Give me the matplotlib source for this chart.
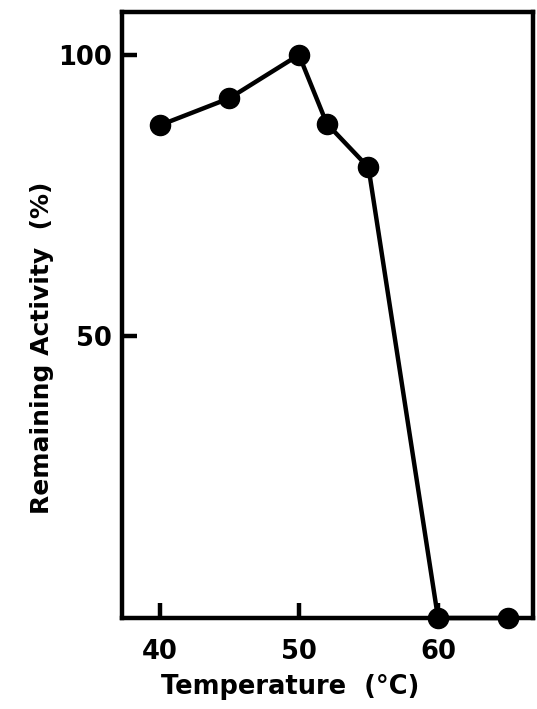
import matplotlib
matplotlib.use("Agg")
import matplotlib.pyplot as plt

temperature = [40, 45, 50, 52, 55, 60, 65]
activity = [87.5, 92.3, 100, 87.8, 80, 0, 0]
xticks = [40, 50, 60]
yticks = [50, 100]

plt.rcParams['font.family'] = ['DejaVu Sans']

fig = plt.figure(figsize=(5.37, 7.09), dpi=100)
ax = fig.add_axes([0.227, 0.1283, 0.7656, 0.8547])

ax.plot(temperature, activity, color='black', lw=3.2, marker='o', ms=14.5,
        clip_on=False, zorder=3)

ax.set_xlim(37.27, 66.83)
ax.set_ylim(0, 107.6)
ax.set_xticks(xticks)
ax.set_yticks(yticks)
ax.tick_params(axis='both', direction='in', length=11, width=3.2,
               labelsize=18.5)
ax.tick_params(axis='x', pad=15)
ax.tick_params(axis='y', pad=7)
for lab in ax.get_xticklabels() + ax.get_yticklabels():
    lab.set_fontweight('bold')
for sp in ax.spines.values():
    sp.set_linewidth(3.2)

ax.set_xlabel('Temperature  (°C)', fontsize=18.5, fontweight='bold')
ax.xaxis.set_label_coords(0.41, -0.092)
ax.set_ylabel('Remaining Activity  (%)', fontsize=18, fontweight='bold')
ax.yaxis.set_label_coords(-0.165, 0.446)

fig.savefig('out.png', dpi=100)
